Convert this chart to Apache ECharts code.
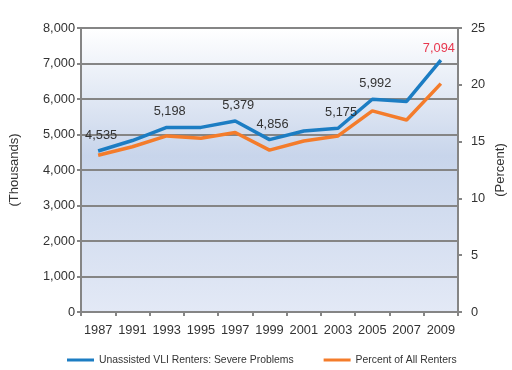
<!DOCTYPE html>
<html>
<head>
<meta charset="utf-8">
<script src="https://cdn.jsdelivr.net/npm/echarts@6/dist/echarts.min.js"></script>
<style>html,body{margin:0;padding:0;background:#fff;}#c{width:512px;height:370px;}</style>
</head>
<body>
<div id="c"></div>
<script>
var years = ['1987','1991','1993','1995','1997','1999','2001','2003','2005','2007','2009'];
var severeProblems = [4535, 4830, 5198, 5200, 5379, 4856, 5100, 5175, 5992, 5930, 7094];
var percentRenters = [13.8, 14.55, 15.5, 15.3, 15.8, 14.25, 15.05, 15.5, 17.7, 16.9, 20.1];
var labeledYears = ['1987','1993','1997','1999','2003','2005','2009'];
var leftTicks = [0, 8000, 1000];
var rightTicks = [0, 25, 5];

var FONT = '"Liberation Sans", Arial, sans-serif';
var TXT = '#333';
var GRAY = '#858585';

var labelStyle = {
  '2009': {color: '#e8384f', offset: [-2, 4]}
};

var blueData = severeProblems.map(function (v, i) {
  var y = years[i];
  if (labeledYears.indexOf(y) < 0) return v;
  var s = labelStyle[y] || {};
  return {
    value: v,
    label: {
      show: true,
      position: 'top',
      distance: 9,
      offset: s.offset || [3, 0],
      color: s.color || TXT,
      fontSize: 12.8,
      fontFamily: FONT,
      formatter: function (p) { return p.value.toLocaleString('en-US'); }
    }
  };
});

var chart = echarts.init(document.getElementById('c'), null, {renderer: 'canvas'});
chart.setOption({
  animation: false,
  backgroundColor: '#fff',
  grid: {
    left: 80, right: 54, top: 28, bottom: 58,
    show: true,
    borderWidth: 0,
    backgroundColor: {
      type: 'linear', x: 0, y: 0, x2: 0, y2: 1,
      colorStops: [
        {offset: 0, color: '#ffffff'},
        {offset: 0.45, color: '#c8d5eb'},
        {offset: 1, color: '#e3e9f6'}
      ]
    }
  },
  graphic: [{
    type: 'text',
    x: 500, y: 170,
    rotation: Math.PI / 2,
    style: {
      text: '(Percent)',
      fill: TXT,
      font: '13px ' + FONT,
      align: 'center',
      verticalAlign: 'middle'
    }
  }],
  legend: {
    left: 62, top: 350,
    itemGap: 30,
    itemWidth: 27, itemHeight: 3,
    icon: 'rect',
    textStyle: {color: TXT, fontSize: 10.4, fontFamily: FONT},
    data: ['Unassisted VLI Renters: Severe Problems', 'Percent of All Renters']
  },
  xAxis: {
    type: 'category',
    data: years,
    boundaryGap: true,
    axisLine: {lineStyle: {color: GRAY, width: 2}},
    axisTick: {show: true, length: 4, interval: 0, lineStyle: {color: GRAY, width: 2}},
    axisLabel: {color: TXT, fontSize: 12.8, fontFamily: FONT, margin: 12, interval: 0},
    splitLine: {show: false}
  },
  yAxis: [
    {
      type: 'value',
      min: leftTicks[0], max: leftTicks[1], interval: leftTicks[2],
      name: '(Thousands)',
      nameLocation: 'middle',
      nameRotate: 90,
      nameGap: 60,
      nameTextStyle: {color: TXT, fontSize: 13, fontFamily: FONT},
      axisLine: {show: true, lineStyle: {color: GRAY, width: 2}},
      axisTick: {show: true, length: 4, lineStyle: {color: GRAY, width: 2}},
      axisLabel: {color: TXT, fontSize: 12.8, fontFamily: FONT, margin: 6,
        formatter: function (v) { return v.toLocaleString('en-US'); }},
      splitLine: {show: true, lineStyle: {color: GRAY, width: 2}}
    },
    {
      type: 'value',
      position: 'right',
      min: rightTicks[0], max: rightTicks[1], interval: rightTicks[2],
      axisLine: {show: true, lineStyle: {color: GRAY, width: 2}},
      axisTick: {show: true, length: 4, lineStyle: {color: GRAY, width: 2}},
      axisLabel: {color: TXT, fontSize: 12.8, fontFamily: FONT, margin: 13},
      splitLine: {show: false}
    }
  ],
  series: [
    {
      name: 'Percent of All Renters',
      type: 'line',
      yAxisIndex: 1,
      data: percentRenters,
      color: '#f47c2b',
      lineStyle: {width: 3.5, color: '#f47c2b'},
      showSymbol: false,
      symbol: 'none',
      z: 2
    },
    {
      name: 'Unassisted VLI Renters: Severe Problems',
      type: 'line',
      yAxisIndex: 0,
      data: blueData,
      color: '#1c7dc3',
      lineStyle: {width: 3.5, color: '#1c7dc3'},
      showSymbol: true,
      symbol: 'circle',
      symbolSize: 0.1,
      itemStyle: {color: '#1c7dc3'},
      z: 3
    }
  ]
});
</script>
</body>
</html>
